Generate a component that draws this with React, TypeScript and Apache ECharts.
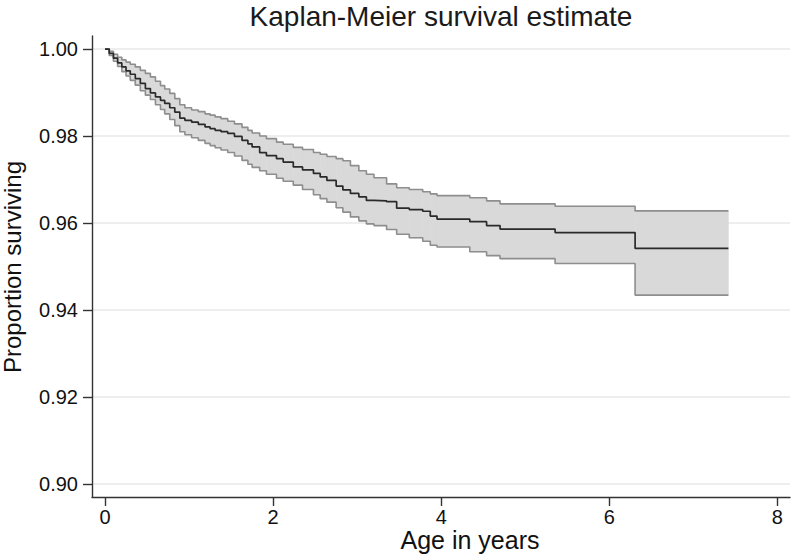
import React, { useEffect, useRef } from "react";
import * as echarts from "echarts";

// Age in years at which the estimate changes
const times = [
  0, 0.05, 0.1, 0.15, 0.2, 0.25, 0.3, 0.36, 0.42, 0.48, 0.54, 0.6, 0.66, 0.71, 0.77, 0.83, 0.89, 0.95,
  1.03, 1.11, 1.19, 1.25, 1.31, 1.38, 1.46, 1.54, 1.63, 1.7, 1.75, 1.84, 1.92, 2.04, 2.12, 2.24, 2.35,
  2.48, 2.56, 2.64, 2.75, 2.83, 2.92, 3.02, 3.11, 3.2, 3.35, 3.47, 3.62, 3.78, 3.87, 3.95, 4.34, 4.54,
  4.7, 5.355, 6.307, 7.417,
];
const survival = [
  1.0, 0.999, 0.9979, 0.9968, 0.9959, 0.995, 0.9942, 0.9932, 0.9921, 0.9909, 0.9899, 0.989, 0.9882,
  0.9875, 0.9865, 0.9855, 0.9841, 0.9836, 0.9832, 0.9827, 0.9821, 0.9817, 0.9813, 0.981, 0.9806, 0.9799,
  0.979, 0.9782, 0.9775, 0.9762, 0.9755, 0.9748, 0.974, 0.9729, 0.9722, 0.9714, 0.9706, 0.9698, 0.9685,
  0.9676, 0.9668, 0.966, 0.9652, 0.9651, 0.9649, 0.9634, 0.9631, 0.9627, 0.9616, 0.9609, 0.9603, 0.9594,
  0.9586, 0.9578, 0.95415, 0.95415,
];
const upperCI = [
  1.0, 0.9995, 0.9988, 0.9981, 0.9975, 0.997, 0.9965, 0.9959, 0.9951, 0.9944, 0.9936, 0.9926, 0.9916,
  0.9908, 0.9898, 0.9886, 0.9872, 0.9865, 0.986, 0.9856, 0.9851, 0.9848, 0.9844, 0.984, 0.9834, 0.9828,
  0.982, 0.9813, 0.9807, 0.98, 0.9794, 0.9786, 0.9781, 0.9774, 0.9769, 0.9762, 0.9758, 0.9753, 0.9748,
  0.9743, 0.9732, 0.972, 0.9712, 0.9704, 0.969, 0.9681, 0.9677, 0.9672, 0.9667, 0.9663, 0.9658, 0.9651,
  0.9644, 0.96386, 0.96278, 0.96278,
];
const lowerCI = [
  1.0, 0.9985, 0.9972, 0.996, 0.9948, 0.9938, 0.9928, 0.9917, 0.9904, 0.9894, 0.9884, 0.9872, 0.9861,
  0.9851, 0.9838, 0.9824, 0.981, 0.9803, 0.9796, 0.979, 0.9783, 0.9778, 0.9773, 0.9768, 0.9762, 0.9754,
  0.9744, 0.9735, 0.9728, 0.972, 0.9712, 0.9703, 0.9696, 0.9687, 0.9677, 0.9665, 0.9656, 0.9648, 0.9635,
  0.9625, 0.9614, 0.9605, 0.9598, 0.9594, 0.9585, 0.9574, 0.9566, 0.9558, 0.9549, 0.9545, 0.9534, 0.9525,
  0.9518, 0.9507, 0.94342, 0.94342,
];
const xTicks = [0, 2, 4, 6, 8];
const yTicks = [0.9, 0.92, 0.94, 0.96, 0.98, 1.0];

const titleText = "Kaplan-Meier survival estimate";
const xTitle = "Age in years";
const yTitle = "Proportion surviving";

const FONT = "'Liberation Sans', Arial, Helvetica, sans-serif";
const BAND = "#d9d9d9";

export default function App() {
  const ref = useRef<HTMLDivElement>(null);

  useEffect(() => {
    if (!ref.current) return;
    const chart = echarts.init(ref.current, null, { renderer: "svg" });

    const zip = (ys: number[]) => times.map((t, i) => [t, ys[i]]);
    // one rectangle per step interval: [start, end, lower, upper]
    const bandCells = times
      .slice(0, -1)
      .map((t, i) => [t, times[i + 1], lowerCI[i], upperCI[i]]);

    const option: any = {
      animation: false,
      backgroundColor: "#ffffff",
      grid: {
        left: 92,
        right: 3,
        top: 36,
        bottom: 58,
        containLabel: false,
        outerBoundsMode: "none",
      },
      xAxis: {
        type: "value",
        min: -0.155,
        max: 8.15,
        axisLine: { show: true, onZero: false, lineStyle: { color: "#333333", width: 1.4 } },
        axisTick: { show: true, length: 9, customValues: xTicks, lineStyle: { color: "#333333", width: 1.4 } },
        axisLabel: {
          customValues: xTicks,
          margin: 10,
          color: "#111111",
          fontSize: 20,
          fontFamily: FONT,
          formatter: (v: number) => String(v),
        },
        splitLine: { show: false },
      },
      yAxis: {
        type: "value",
        min: 0.897,
        max: 1.003,
        axisLine: { show: true, onZero: false, lineStyle: { color: "#333333", width: 1.4 } },
        axisTick: { show: true, length: 9, customValues: yTicks, lineStyle: { color: "#333333", width: 1.4 } },
        axisLabel: {
          customValues: yTicks,
          margin: 14,
          color: "#111111",
          fontSize: 20,
          fontFamily: FONT,
          formatter: (v: number) => v.toFixed(2),
        },
        splitLine: { show: true, lineStyle: { color: "#e8e8e8", width: 1.5 } },
      },
      graphic: [
        {
          type: "text",
          x: 441,
          y: 16,
          style: {
            text: titleText,
            fill: "#1a1a1a",
            font: `28px ${FONT}`,
            textAlign: "center",
            textVerticalAlign: "middle",
          },
        },
        {
          type: "text",
          x: 470,
          y: 540,
          style: {
            text: xTitle,
            fill: "#111111",
            font: `25px ${FONT}`,
            textAlign: "center",
            textVerticalAlign: "middle",
          },
        },
        {
          type: "text",
          x: 12,
          y: 267,
          rotation: Math.PI / 2,
          style: {
            text: yTitle,
            fill: "#111111",
            font: `24px ${FONT}`,
            textAlign: "center",
            textVerticalAlign: "middle",
          },
        },
      ],
      series: [
        {
          type: "custom",
          name: "band",
          silent: true,
          data: bandCells,
          encode: { x: [0, 1], y: [2, 3] },
          z: 1,
          renderItem: (params: any, api: any) => {
            const p0 = api.coord([api.value(0), api.value(3)]);
            const p1 = api.coord([api.value(1), api.value(2)]);
            return {
              type: "rect",
              shape: {
                x: p0[0],
                y: p0[1],
                width: p1[0] - p0[0],
                height: p1[1] - p0[1],
              },
              style: { fill: BAND, stroke: BAND, lineWidth: 0.6 },
            };
          },
        },
        {
          type: "line",
          name: "upper",
          step: "end",
          symbol: "none",
          silent: true,
          data: zip(upperCI),
          lineStyle: { color: "#8e8e8e", width: 1.6 },
          z: 2,
        },
        {
          type: "line",
          name: "lower",
          step: "end",
          symbol: "none",
          silent: true,
          data: zip(lowerCI),
          lineStyle: { color: "#8e8e8e", width: 1.6 },
          z: 2,
        },
        {
          type: "line",
          name: "survival",
          step: "end",
          symbol: "none",
          silent: true,
          data: zip(survival),
          lineStyle: { color: "#2a2a2a", width: 1.7 },
          z: 3,
        },
      ],
    };

    chart.setOption(option);
    return () => chart.dispose();
  }, []);

  return (
    <div
      ref={ref}
      style={{ position: "fixed", left: 0, top: 0, width: 793, height: 555, background: "#fff" }}
    />
  );
}
